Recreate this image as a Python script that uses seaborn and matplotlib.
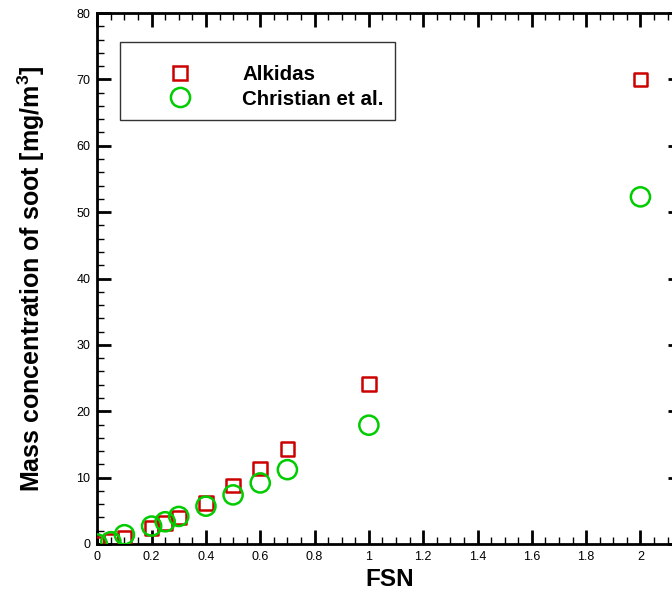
import matplotlib
matplotlib.use("Agg")
import matplotlib.pyplot as plt
from matplotlib.lines import Line2D
from matplotlib.ticker import MultipleLocator
import seaborn as sns
import pandas as pd

# Data
fsn = [0, 0.05, 0.1, 0.2, 0.25, 0.3, 0.4, 0.5, 0.6, 0.7, 1.0, 2.0]
alkidas = [0, 0.5, 1.0, 2.4, 3.2, 4.0, 6.2, 8.8, 11.4, 14.3, 24.1, 70.0]
christian = [0, 0.35, 1.4, 2.7, 3.35, 4.15, 5.7, 7.4, 9.2, 11.2, 17.9, 52.3]
series_names = ["Alkidas", "Christian et al."]

sns.set_style("white")
plt.rcParams["font.family"] = ["Liberation Sans", "DejaVu Sans"]
plt.rcParams.update({
    "text.color": "black",
    "axes.labelcolor": "black",
    "xtick.color": "black",
    "ytick.color": "black",
    "mathtext.fontset": "custom",
    "mathtext.rm": "Liberation Sans",
    "mathtext.bf": "Liberation Sans:bold",
    "mathtext.it": "Liberation Sans:italic",
})

fig = plt.figure(figsize=(6.72, 5.93), dpi=100)
ax = fig.add_axes([97.3 / 672, 49 / 593, (682 - 97.3) / 672, (580 - 49) / 593])

red = "#CC0000"
green = "#00CC00"

df_a = pd.DataFrame({"FSN": fsn, "val": alkidas})
df_c = pd.DataFrame({"FSN": fsn, "val": christian})

sns.scatterplot(data=df_a, x="FSN", y="val", ax=ax, marker="s", s=95,
                facecolor="none", edgecolor=red, linewidth=1.8, zorder=3)
sns.scatterplot(data=df_c, x="FSN", y="val", ax=ax, marker="o", s=190,
                facecolor="none", edgecolor=green, linewidth=1.8, zorder=4)

ax.set_xlim(0, 2.153)
ax.set_ylim(0, 80)
ax.xaxis.set_major_locator(MultipleLocator(0.2))
ax.xaxis.set_minor_locator(MultipleLocator(0.05))
ax.yaxis.set_major_locator(MultipleLocator(10))
ax.yaxis.set_minor_locator(MultipleLocator(2))
ax.xaxis.set_major_formatter(matplotlib.ticker.FuncFormatter(lambda v, p: f"{v:g}"))

for sp in ax.spines.values():
    sp.set_visible(True)
    sp.set_color("black")
    sp.set_linewidth(2.0)

ax.tick_params(which="major", direction="in", length=10, width=2.0,
               top=True, right=True, bottom=True, left=True,
               labelsize=9, colors="black", pad=5)
ax.tick_params(which="minor", direction="in", length=5, width=1.0,
               top=True, right=True, bottom=True, left=True)

ax.set_xlabel("FSN", fontsize=17.5, fontweight="bold", labelpad=4)
ax.set_ylabel("Mass concentration of soot [mg/m$^\\mathbf{3}$]", fontsize=18,
              fontweight="bold", labelpad=21)

handles = [
    Line2D([0], [0], marker="s", linestyle="none", markersize=9.7,
           markerfacecolor="none", markeredgecolor=red, markeredgewidth=1.8),
    Line2D([0], [0], marker="o", linestyle="none", markersize=13.8,
           markerfacecolor="none", markeredgecolor=green, markeredgewidth=1.8),
]
leg = ax.legend(handles, series_names, loc="upper left",
                bbox_to_anchor=((120 - 97.3) / (682 - 97.3), (544 - 42) / (544 - 13)),
                frameon=True, fancybox=False, edgecolor="black",
                prop={"weight": "bold", "size": 14.8}, handletextpad=0.65,
                borderpad=0.55, labelspacing=0.25, handlelength=4.75,
                borderaxespad=0, title=" ", title_fontsize=5.5)
leg.get_frame().set_linewidth(1.0)

fig.savefig("out.png", dpi=100)
